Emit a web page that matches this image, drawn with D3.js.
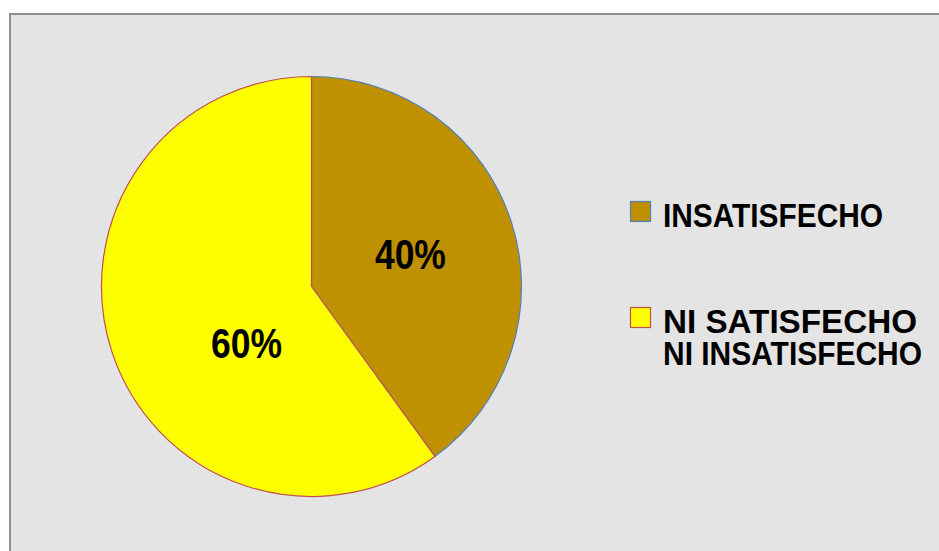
<!DOCTYPE html>
<html>
<head>
<meta charset="utf-8">
<script src="https://cdn.jsdelivr.net/npm/d3@7"></script>
<style>
  html, body { margin: 0; padding: 0; background: #ffffff; }
  svg { display: block; }
</style>
</head>
<body>
<svg id="chart" width="939" height="551"></svg>
<script>
// Survey satisfaction split
const categories = ["INSATISFECHO", "NI SATISFECHO NI INSATISFECHO"];
const legendLines = [["INSATISFECHO"], ["NI SATISFECHO", "NI INSATISFECHO"]];
const values = [40, 60];
const fills = ["#bf9000", "#ffff00"];
const strokes = ["#4f81bd", "#c0504d"];

const svg = d3.select("#chart");
const W = 939, H = 551;
const FONT = "'Liberation Sans', Arial, sans-serif";

// chart area panel
svg.append("rect")
  .attr("x", 10).attr("y", 14)
  .attr("width", W).attr("height", H)
  .attr("fill", "#e4e4e4")
  .attr("stroke", "#8f8f8f")
  .attr("stroke-width", 2);

const cx = 311.5, cy = 286.5, R = 210;

const pie = d3.pie().sort(null).value(d => d)(values);
const arc = d3.arc().innerRadius(0).outerRadius(R);

const g = svg.append("g").attr("transform", `translate(${cx},${cy})`);

g.selectAll("path.slice")
  .data(pie)
  .join("path")
  .attr("class", "slice")
  .attr("d", arc)
  .attr("fill", (d, i) => fills[i])
  .attr("stroke", (d, i) => strokes[i])
  .attr("stroke-width", 1.2)
  .attr("stroke-linejoin", "round");

// percentage labels, placed inside each slice
const labelPlace = [
  { r: 104, shift: 0 },
  { r: 86, shift: -23 * Math.PI / 180 }
];
const total = d3.sum(values);
g.selectAll("text.pct")
  .data(pie)
  .join("text")
  .attr("class", "pct")
  .attr("transform", (d, i) => {
    const a = (d.startAngle + d.endAngle) / 2 + labelPlace[i].shift;
    const rr = labelPlace[i].r;
    return `translate(${rr * Math.sin(a)},${-rr * Math.cos(a)})`;
  })
  .attr("text-anchor", "middle")
  .attr("dy", "0.36em")
  .attr("font-family", FONT)
  .attr("font-weight", "bold")
  .attr("font-size", 42)
  .attr("textLength", 71)
  .attr("lengthAdjust", "spacingAndGlyphs")
  .attr("fill", "#000")
  .text(d => Math.round(d.data / total * 100) + "%");

// legend
const legend = svg.append("g").attr("transform", "translate(630,201)");
const rowY = [0, 106];
const lineWidths = [[220], [254, 259]];
const item = legend.selectAll("g.item")
  .data(categories)
  .join("g")
  .attr("class", "item")
  .attr("transform", (d, i) => `translate(0,${rowY[i]})`);

item.append("rect")
  .attr("x", 0.5).attr("y", 0.5)
  .attr("width", 20).attr("height", 20)
  .attr("fill", (d, i) => fills[i])
  .attr("stroke", (d, i) => strokes[i])
  .attr("stroke-width", 1.2);

item.each(function(d, i) {
  const grp = d3.select(this);
  legendLines[i].forEach((line, j) => {
    grp.append("text")
      .attr("x", 33)
      .attr("y", 26 + j * 32)
      .attr("font-family", FONT)
      .attr("font-weight", "bold")
      .attr("font-size", 34)
      .attr("textLength", lineWidths[i][j])
      .attr("lengthAdjust", "spacingAndGlyphs")
      .attr("fill", "#000")
      .text(line);
  });
});
</script>
</body>
</html>
